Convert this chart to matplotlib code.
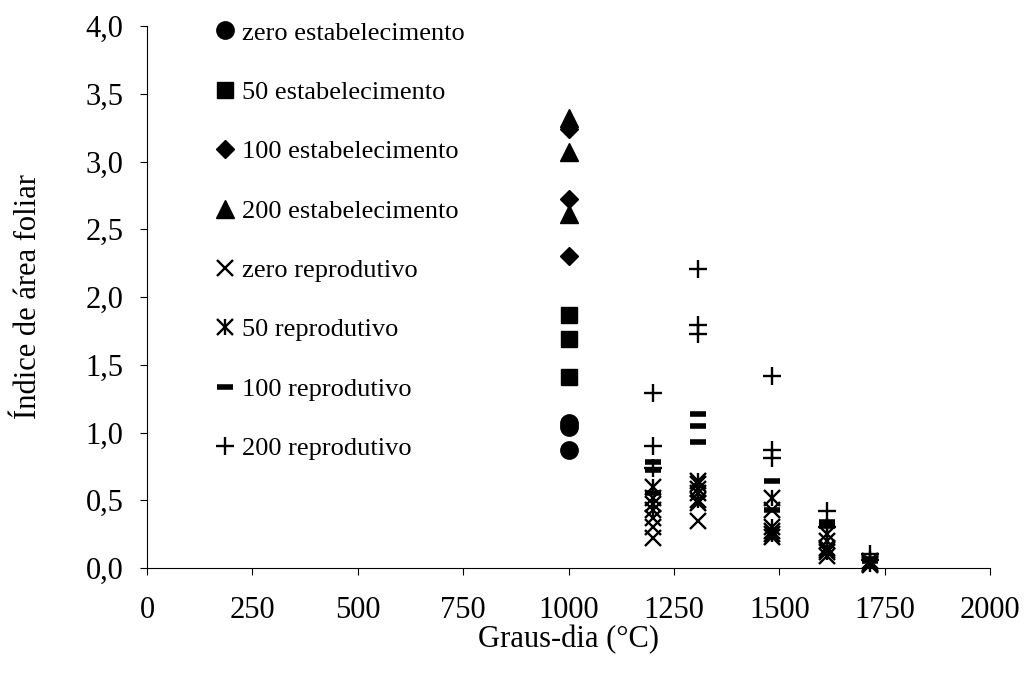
import matplotlib
matplotlib.use("Agg")
import matplotlib.pyplot as plt
from matplotlib.lines import Line2D

plt.rcParams['font.family'] = ['Liberation Serif', 'DejaVu Serif']

# ---- data ----
x_est = 1000
zero_est = [1.07, 1.04, 0.87]
cinq_est = [1.87, 1.69, 1.41]
cem_est = [3.24, 2.72, 2.30]
duz_est = [3.32, 3.07, 2.61]

x_rep = [1200, 1308, 1483, 1613, 1715]
zero_rep = [[0.52, 0.37, 0.30, 0.22], [0.62, 0.48, 0.35], [0.43, 0.27, 0.23], [0.20, 0.13, 0.09], [0.04, 0.02]]
cinq_rep = [[0.60, 0.47, 0.43], [0.64, 0.58, 0.55, 0.50], [0.52, 0.30, 0.25], [0.25, 0.15, 0.12], [0.05, 0.03]]
cem_rep = [[0.78, 0.72, 0.55], [1.14, 1.05, 0.93], [0.64, 0.43], [0.34, 0.31], [0.07, 0.05]]
duz_rep = [[1.29, 0.90, 0.74], [2.21, 1.79, 1.73], [1.42, 0.87, 0.81], [0.42, 0.30], [0.10, 0.06]]

labels = ["zero estabelecimento", "50 estabelecimento", "100 estabelecimento",
          "200 estabelecimento", "zero reprodutivo", "50 reprodutivo",
          "100 reprodutivo", "200 reprodutivo"]
xticks = [0, 250, 500, 750, 1000, 1250, 1500, 1750, 2000]
yticks = [0.0, 0.5, 1.0, 1.5, 2.0, 2.5, 3.0, 3.5, 4.0]

fig = plt.figure(figsize=(10.25, 6.75), dpi=100)
ax = fig.add_axes([147/1025, 1-568/675, (990-147)/1025, (568-26)/675])

def flat(groups):
    xs, ys = [], []
    for xv, g in zip(x_rep, groups):
        xs += [xv]*len(g)
        ys += g
    return xs, ys

k = dict(color='black', linestyle='none', clip_on=False)
st = [dict(marker='o', markersize=12.5),
      dict(marker='s', markersize=11.5),
      dict(marker='D', markersize=9.5),
      dict(marker='^', markersize=12.5),
      dict(marker='x', markersize=11, markeredgewidth=1.7),
      dict(marker='x', markersize=11, markeredgewidth=1.7),
      dict(marker='_', markersize=11, markeredgewidth=4),
      dict(marker='+', markersize=13, markeredgewidth=1.7)]
bar = dict(marker='|', markersize=12, markeredgewidth=1.7)

ax.plot([x_est]*3, zero_est, **st[0], **k)
ax.plot([x_est]*3, cinq_est, **st[1], **k)
ax.plot([x_est]*3, cem_est, **st[2], **k)
ax.plot([x_est]*3, duz_est, **st[3], **k)
xs, ys = flat(zero_rep)
ax.plot(xs, ys, **st[4], **k)
xs, ys = flat(cinq_rep)
ax.plot(xs, ys, **st[5], **k)
ax.plot(xs, ys, **bar, **k)
xs, ys = flat(cem_rep)
ax.plot(xs, ys, **st[6], **k)
xs, ys = flat(duz_rep)
ax.plot(xs, ys, **st[7], **k)

ax.set_xlim(0, 2000)
ax.set_ylim(0, 4.0)
ax.set_xticks(xticks)
ax.set_xticklabels([str(v) for v in xticks])
ax.set_yticks(yticks)
ax.set_yticklabels([f"{v:.1f}".replace('.', ',') for v in yticks])
ax.tick_params(labelsize=22, direction='out', length=5, width=0.8)
ax.tick_params(axis='x', pad=15)
ax.tick_params(axis='y', pad=12)
for s in ['top', 'right']:
    ax.spines[s].set_visible(False)
ax.set_xlabel("Graus-dia (°C)", fontsize=22, labelpad=0)
ax.set_ylabel("Índice de área foliar", fontsize=22)
ax.yaxis.set_label_coords(-104/843, 0.5)

h = [Line2D([], [], **s, **k) for s in st]
h[5] = (h[5], Line2D([], [], **bar, **k))
leg = fig.legend(h, labels, loc='upper left', bbox_to_anchor=(200/1025, 1-8/675),
                 frameon=False, fontsize=19, labelspacing=1.36, handlelength=0.9,
                 handletextpad=0.2, borderpad=0)

fig.savefig("out.png", dpi=100)
